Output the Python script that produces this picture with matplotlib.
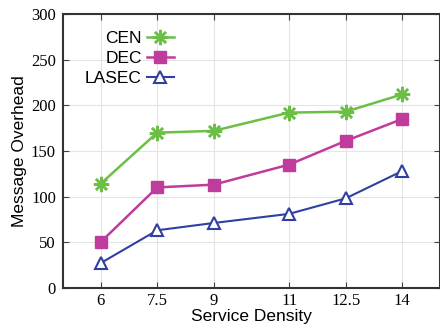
import matplotlib
matplotlib.use("Agg")
import matplotlib.pyplot as plt

density = [6, 7.5, 9, 11, 12.5, 14]
cen = [114, 170, 172, 192, 193, 212]
dec = [50, 110, 113, 135, 161, 185]
lasec = [27, 63, 71, 81, 98, 128]

fig = plt.figure(figsize=(4.4, 3.27), dpi=100)
ax = fig.add_axes([0.143, 0.12, 0.857, 0.837])

ax.plot(density, cen, color="#6cbf45", lw=1.8, marker=(8, 2, 0), ms=11, mew=1.8, label="CEN")
ax.plot(density, dec, color="#c03c9c", lw=1.8, marker="s", ms=8, label="DEC")
ax.plot(density, lasec, color="#3040a0", lw=1.5, marker="^", ms=8, mfc="white", mew=1.5, label="LASEC")

ax.set_xlim(5, 15)
ax.set_ylim(0, 300)
ax.set_xticks(density)
ax.set_xticklabels(["6", "7.5", "9", "11", "12.5", "14"])
ax.set_yticks(range(0, 301, 50))
ax.grid(True, color="#e4e4e4", lw=0.8)
ax.set_axisbelow(True)
ax.tick_params(direction="in", top=True, right=True, length=4, labelsize=12, color="#444444")
ax.tick_params(axis="x", pad=4)
ax.tick_params(axis="y", pad=5)
for lab in ax.get_xticklabels() + ax.get_yticklabels():
    lab.set_family("Liberation Serif")
for s in ax.spines.values():
    s.set_linewidth(1.5)
    s.set_color("#333333")

ax.set_xlabel("Service Density", family="Liberation Sans", fontsize=12.5, labelpad=0)
ax.set_ylabel("Message Overhead", family="Liberation Sans", fontsize=12.5, labelpad=3)

leg = ax.legend(loc="upper left", markerfirst=False, frameon=False,
                prop={"family": "Liberation Sans", "size": 12.5},
                handlelength=1.55, handletextpad=0.3, borderpad=0, borderaxespad=0,
                labelspacing=0.3, bbox_to_anchor=(0.058, 0.94))

fig.savefig("out.png", dpi=100)
